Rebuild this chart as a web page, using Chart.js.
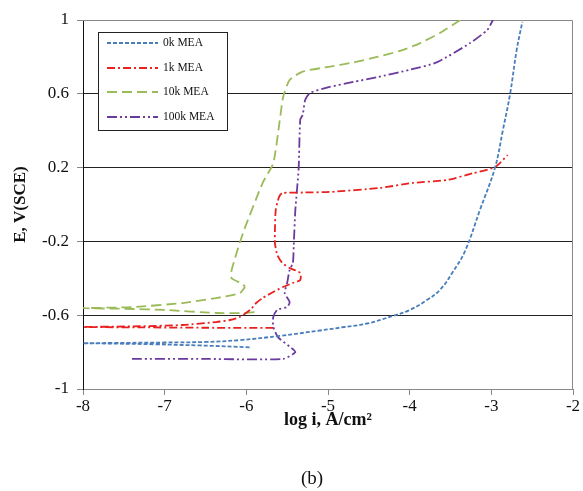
<!DOCTYPE html>
<html>
<head>
<meta charset="utf-8">
<script src="https://cdn.jsdelivr.net/npm/chart.js@4.4.1/dist/chart.umd.min.js"></script>
<style>
  html, body { margin: 0; padding: 0; background: #fff; }
  #wrap { width: 583px; height: 491px; }
</style>
</head>
<body>
<div id="wrap"><canvas id="chart" width="583" height="491"></canvas></div>
<script>
// tick values
var xTicks = [-8, -7, -6, -5, -4, -3, -2];
var yTicks = [-1, -0.6, -0.2, 0.2, 0.6, 1];

// 0k MEA
var mea0X = [-5.96, -6.57, -7.1, -7.6, -8.0, -7.5, -7.0, -6.5, -6.08, -5.59, -5.1, -4.8, -4.52, -4.2, -4.0, -3.79, -3.63, -3.47, -3.32, -3.14, -2.955, -2.86, -2.77, -2.69, -2.62];
var mea0Y = [-0.774, -0.764, -0.758, -0.754, -0.752, -0.75, -0.748, -0.745, -0.735, -0.712, -0.683, -0.664, -0.645, -0.603, -0.572, -0.518, -0.463, -0.365, -0.25, -0.03, 0.2, 0.4, 0.6, 0.837, 0.99];

// 1k MEA
var mea1X = [-5.67, -6.5, -7.3, -8.0, -7.3, -6.78, -6.37, -6.2, -6.08, -5.95, -5.88, -5.8, -5.67, -5.55, -5.43, -5.34, -5.34, -5.47, -5.56, -5.62, -5.65, -5.65, -5.64, -5.6, -5.56, -5.3, -4.98, -4.36, -3.96, -3.54, -3.22, -2.955, -2.8];
var mea1Y = [-0.669, -0.668, -0.666, -0.664, -0.66, -0.653, -0.637, -0.626, -0.61, -0.57, -0.534, -0.507, -0.474, -0.447, -0.425, -0.41, -0.371, -0.344, -0.317, -0.274, -0.209, -0.14, -0.03, 0.04, 0.062, 0.065, 0.068, 0.09, 0.117, 0.133, 0.17, 0.203, 0.268];

// 10k MEA
var mea10X = [-5.9, -6.04, -6.37, -6.98, -7.5, -8.0, -7.4, -6.78, -6.37, -6.08, -6.02, -6.05, -6.18, -6.18, -6.04, -5.8, -5.67, -5.59, -5.55, -5.47, -5.31, -5.01, -4.69, -4.4, -4.1, -3.87, -3.63, -3.38];
var mea10Y = [-0.583, -0.588, -0.588, -0.572, -0.565, -0.562, -0.556, -0.534, -0.507, -0.48, -0.447, -0.43, -0.4, -0.355, -0.154, 0.117, 0.225, 0.458, 0.58, 0.675, 0.72, 0.745, 0.77, 0.8, 0.835, 0.875, 0.93, 1.0];

// 100k MEA
var mea100X = [-7.4, -6.5, -5.55, -5.4, -5.47, -5.61, -5.67, -5.67, -5.62, -5.5, -5.47, -5.53, -5.5, -5.47, -5.43, -5.42, -5.4, -5.36, -5.34, -5.31, -5.28, -5.22, -4.98, -4.69, -4.4, -4.0, -3.67, -3.26, -3.05, -2.98];
var mea100Y = [-0.837, -0.837, -0.837, -0.80, -0.77, -0.72, -0.664, -0.61, -0.57, -0.556, -0.528, -0.48, -0.425, -0.355, -0.317, -0.23, -0.03, 0.19, 0.46, 0.485, 0.566, 0.605, 0.637, 0.664, 0.69, 0.73, 0.77, 0.875, 0.946, 1.0];

var seriesLabels = ['0k MEA', '1k MEA', '10k MEA', '100k MEA'];
var seriesColors = ['#4a7ebb', '#e8201e', '#9bbb59', '#6a3a9e'];
var seriesDashes = [[4, 2], [8, 3, 2, 3], [10, 5], [10, 3, 2, 3, 2, 3]];
var seriesTension = [0.4, 0.2, 0.2, 0.2];

function toPoints(xs, ys) {
    var pts = [];
    for (var i = 0; i < xs.length; i++) {
        pts.push({ x: xs[i], y: ys[i] });
    }
    return pts;
}

var seriesData = [
    toPoints(mea0X, mea0Y),
    toPoints(mea1X, mea1Y),
    toPoints(mea10X, mea10Y),
    toPoints(mea100X, mea100Y)
];

var datasets = [];
for (var i = 0; i < seriesLabels.length; i++) {
    datasets.push({
        label: seriesLabels[i],
        data: seriesData[i],
        showLine: true,
        borderColor: seriesColors[i],
        backgroundColor: seriesColors[i],
        borderWidth: 1.8,
        borderDash: seriesDashes[i],
        pointRadius: 0,
        tension: seriesTension[i]
    });
}

// frame round the plot + legend box inside it
var framePlugin = {
    id: 'frame',
    beforeDatasetsDraw: function (chart) {
        var a = chart.chartArea, ctx = chart.ctx;
        ctx.save();
        ctx.strokeStyle = '#888';
        ctx.lineWidth = 1;
        ctx.beginPath();
        ctx.moveTo(a.left, a.top + 0.5);
        ctx.lineTo(a.right - 0.5, a.top + 0.5);
        ctx.lineTo(a.right - 0.5, a.bottom);
        ctx.stroke();
        ctx.restore();
    },
    afterDraw: function (chart) {
        var ctx = chart.ctx;
        ctx.save();
        // legend
        ctx.fillStyle = '#fff';
        ctx.fillRect(98, 32, 129, 98);
        ctx.strokeStyle = '#222';
        ctx.lineWidth = 1;
        ctx.setLineDash([]);
        ctx.strokeRect(98.5, 32.5, 129, 98);
        var rows = [43, 68, 92, 117];
        chart.data.datasets.forEach(function (ds, i) {
            ctx.strokeStyle = ds.borderColor;
            ctx.lineWidth = 2;
            ctx.setLineDash(ds.borderDash);
            ctx.beginPath();
            ctx.moveTo(107, rows[i]);
            ctx.lineTo(158, rows[i]);
            ctx.stroke();
            ctx.setLineDash([]);
            ctx.fillStyle = '#111';
            ctx.font = '11.5px "Liberation Serif", serif';
            ctx.textBaseline = 'middle';
            ctx.textAlign = 'left';
            ctx.fillText(ds.label, 163, rows[i]);
        });
        // caption
        ctx.fillStyle = '#111';
        ctx.font = '19px "Liberation Serif", serif';
        ctx.textAlign = 'center';
        ctx.textBaseline = 'middle';
        ctx.fillText('(b)', 312, 479);
        ctx.restore();
    }
};

var ctx = document.getElementById('chart').getContext('2d');
var chart = new Chart(ctx, {
    type: 'scatter',
    data: { datasets: datasets },
    options: {
        responsive: false,
        animation: false,
        devicePixelRatio: 1,
        layout: { padding: { left: 0, top: 20, right: 10, bottom: 60 } },
        plugins: {
            legend: { display: false },
            tooltip: { enabled: false }
        },
        scales: {
            x: {
                type: 'linear',
                min: -8,
                max: -2,
                afterBuildTicks: function (s) { s.ticks = xTicks.map(function (v) { return { value: v }; }); },
                afterFit: function (s) { s.height = 42; },
                grid: { drawOnChartArea: false, drawTicks: true, tickLength: 6, color: '#888' },
                border: { color: '#888', width: 1 },
                ticks: {
                    padding: 1, color: '#111',
                    font: { family: '"Liberation Serif", serif', size: 17 },
                    callback: function (v) { return String(v); }
                },
                title: {
                    display: true,
                    text: 'log i, A/cm²',
                    color: '#111',
                    padding: { top: 0, bottom: 0 },
                    font: { family: '"Liberation Serif", serif', size: 18, weight: 'bold' }
                }
            },
            y: {
                type: 'linear',
                min: -1,
                max: 1,
                afterBuildTicks: function (s) { s.ticks = yTicks.map(function (v) { return { value: v }; }); },
                afterFit: function (s) { s.width = 83; },
                grid: {
                    drawTicks: true,
                    tickLength: 6,
                    tickColor: '#888',
                    color: function (c) {
                        if (c.tick && (c.tick.value === -1 || c.tick.value === 1)) return 'rgba(0,0,0,0)';
                        return '#222';
                    }
                },
                border: { color: '#111', width: 1 },
                ticks: {
                    padding: 8, color: '#111',
                    font: { family: '"Liberation Serif", serif', size: 17 },
                    callback: function (v) { return String(v); }
                },
                title: {
                    display: true,
                    text: 'E, V(SCE)',
                    color: '#111',
                    padding: { top: 10, bottom: 0 },
                    font: { family: '"Liberation Serif", serif', size: 17, weight: 'bold' }
                }
            }
        }
    },
    plugins: [framePlugin]
});
</script>
</body>
</html>
